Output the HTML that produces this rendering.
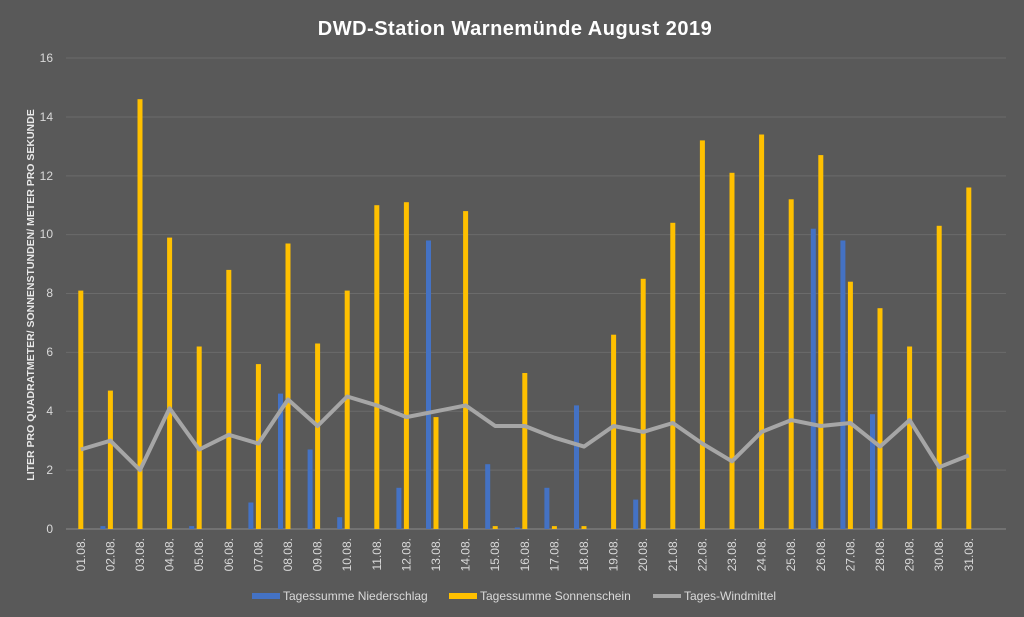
<!DOCTYPE html><html><head><style>body{margin:0;background:#595959}svg{display:block}text{font-family:"Liberation Sans",sans-serif}</style></head><body>
<svg width="1024" height="617" xmlns="http://www.w3.org/2000/svg">
<rect width="1024" height="617" fill="#595959"/>
<text x="515" y="35" fill="#fff" font-size="20" font-weight="bold" text-anchor="middle" letter-spacing="0.5">DWD-Station Warnemünde August 2019</text>
<text transform="translate(34,295) rotate(-90)" fill="#e8e8e8" font-size="10.5" font-weight="bold" text-anchor="middle">LITER PRO QUADRATMETER/ SONNENSTUNDEN/ METER PRO SEKUNDE</text>
<g stroke="#6b6b6b" stroke-width="1">
<line x1="66" x2="1006" y1="470.1" y2="470.1"/><line x1="66" x2="1006" y1="411.3" y2="411.3"/><line x1="66" x2="1006" y1="352.4" y2="352.4"/><line x1="66" x2="1006" y1="293.5" y2="293.5"/><line x1="66" x2="1006" y1="234.6" y2="234.6"/><line x1="66" x2="1006" y1="175.9" y2="175.9"/><line x1="66" x2="1006" y1="117" y2="117"/><line x1="66" x2="1006" y1="58" y2="58"/>
</g>
<line x1="66" x2="1006" y1="529" y2="529" stroke="#8c8c8c"/>
<g fill="#d9d9d9" font-size="12" text-anchor="end">
<text x="53" y="533">0</text><text x="53" y="474">2</text><text x="53" y="415">4</text><text x="53" y="356">6</text><text x="53" y="297">8</text><text x="53" y="238">10</text><text x="53" y="180">12</text><text x="53" y="121">14</text><text x="53" y="62">16</text>
</g>
<g fill="#4472c4">
<rect x="100.4" y="526.1" width="5" height="2.9"/>
<rect x="189.2" y="526.1" width="5" height="2.9"/>
<rect x="248.4" y="502.5" width="5" height="26.5"/>
<rect x="278" y="393.6" width="5" height="135.4"/>
<rect x="307.6" y="449.5" width="5" height="79.5"/>
<rect x="337.2" y="517.2" width="5" height="11.8"/>
<rect x="396.4" y="487.8" width="5" height="41.2"/>
<rect x="426" y="240.5" width="5" height="288.5"/>
<rect x="485.2" y="464.2" width="5" height="64.8"/>
<rect x="514.8" y="527.5" width="5" height="1.5"/>
<rect x="544.4" y="487.8" width="5" height="41.2"/>
<rect x="574" y="405.4" width="5" height="123.6"/>
<rect x="633.2" y="499.6" width="5" height="29.4"/>
<rect x="810.8" y="228.7" width="5" height="300.3"/>
<rect x="840.4" y="240.5" width="5" height="288.5"/>
<rect x="870" y="414.2" width="5" height="114.8"/>
</g>
<g fill="#ffc000">
<rect x="78.3" y="290.6" width="5" height="238.4"/>
<rect x="107.9" y="390.6" width="5" height="138.4"/>
<rect x="137.5" y="99.2" width="5" height="429.8"/>
<rect x="167.1" y="237.6" width="5" height="291.4"/>
<rect x="196.7" y="346.5" width="5" height="182.5"/>
<rect x="226.3" y="269.9" width="5" height="259.1"/>
<rect x="255.9" y="364.1" width="5" height="164.9"/>
<rect x="285.5" y="243.5" width="5" height="285.5"/>
<rect x="315.1" y="343.5" width="5" height="185.5"/>
<rect x="344.7" y="290.6" width="5" height="238.4"/>
<rect x="374.3" y="205.2" width="5" height="323.8"/>
<rect x="403.9" y="202.2" width="5" height="326.8"/>
<rect x="433.5" y="417.1" width="5" height="111.9"/>
<rect x="463.1" y="211.1" width="5" height="317.9"/>
<rect x="492.7" y="526.1" width="5" height="2.9"/>
<rect x="522.3" y="373" width="5" height="156"/>
<rect x="551.9" y="526.1" width="5" height="2.9"/>
<rect x="581.5" y="526.1" width="5" height="2.9"/>
<rect x="611.1" y="334.7" width="5" height="194.3"/>
<rect x="640.7" y="278.8" width="5" height="250.2"/>
<rect x="670.3" y="222.8" width="5" height="306.2"/>
<rect x="699.9" y="140.4" width="5" height="388.6"/>
<rect x="729.5" y="172.8" width="5" height="356.2"/>
<rect x="759.1" y="134.5" width="5" height="394.5"/>
<rect x="788.7" y="199.3" width="5" height="329.7"/>
<rect x="818.3" y="155.1" width="5" height="373.9"/>
<rect x="847.9" y="281.7" width="5" height="247.3"/>
<rect x="877.5" y="308.2" width="5" height="220.8"/>
<rect x="907.1" y="346.5" width="5" height="182.5"/>
<rect x="936.7" y="225.8" width="5" height="303.2"/>
<rect x="966.3" y="187.5" width="5" height="341.5"/>
</g>
<polyline fill="none" stroke="#a6a6a6" stroke-width="4" stroke-linejoin="round" points="80.8,449.5 110.4,440.7 140,470.1 169.6,408.3 199.2,449.5 228.8,434.8 258.4,443.6 288,399.5 317.6,426 347.2,396.5 376.8,405.4 406.4,417.1 436,411.3 465.6,405.4 495.2,426 524.8,426 554.4,437.7 584,446.6 613.6,426 643.2,431.9 672.8,423 702.4,443.6 732,461.3 761.6,431.9 791.2,420.1 820.8,426 850.4,423 880,446.6 909.6,420.1 939.2,467.2 968.8,455.4"/>
<g fill="#d9d9d9" font-size="12" text-anchor="end">
<text transform="translate(84.8,538) rotate(-90)">01.08.</text>
<text transform="translate(114.4,538) rotate(-90)">02.08.</text>
<text transform="translate(144,538) rotate(-90)">03.08.</text>
<text transform="translate(173.6,538) rotate(-90)">04.08.</text>
<text transform="translate(203.2,538) rotate(-90)">05.08.</text>
<text transform="translate(232.8,538) rotate(-90)">06.08.</text>
<text transform="translate(262.4,538) rotate(-90)">07.08.</text>
<text transform="translate(292,538) rotate(-90)">08.08.</text>
<text transform="translate(321.6,538) rotate(-90)">09.08.</text>
<text transform="translate(351.2,538) rotate(-90)">10.08.</text>
<text transform="translate(380.8,538) rotate(-90)">11.08.</text>
<text transform="translate(410.4,538) rotate(-90)">12.08.</text>
<text transform="translate(440,538) rotate(-90)">13.08.</text>
<text transform="translate(469.6,538) rotate(-90)">14.08.</text>
<text transform="translate(499.2,538) rotate(-90)">15.08.</text>
<text transform="translate(528.8,538) rotate(-90)">16.08.</text>
<text transform="translate(558.4,538) rotate(-90)">17.08.</text>
<text transform="translate(588,538) rotate(-90)">18.08.</text>
<text transform="translate(617.6,538) rotate(-90)">19.08.</text>
<text transform="translate(647.2,538) rotate(-90)">20.08.</text>
<text transform="translate(676.8,538) rotate(-90)">21.08.</text>
<text transform="translate(706.4,538) rotate(-90)">22.08.</text>
<text transform="translate(736,538) rotate(-90)">23.08.</text>
<text transform="translate(765.6,538) rotate(-90)">24.08.</text>
<text transform="translate(795.2,538) rotate(-90)">25.08.</text>
<text transform="translate(824.8,538) rotate(-90)">26.08.</text>
<text transform="translate(854.4,538) rotate(-90)">27.08.</text>
<text transform="translate(884,538) rotate(-90)">28.08.</text>
<text transform="translate(913.6,538) rotate(-90)">29.08.</text>
<text transform="translate(943.2,538) rotate(-90)">30.08.</text>
<text transform="translate(972.8,538) rotate(-90)">31.08.</text>
</g>
<g font-size="12" fill="#d9d9d9">
<rect x="252" y="593" width="28" height="6" fill="#4472c4"/><text x="283" y="600">Tagessumme Niederschlag</text>
<rect x="449" y="593" width="28" height="6" fill="#ffc000"/><text x="480" y="600">Tagessumme Sonnenschein</text>
<rect x="653" y="594" width="28" height="4" fill="#a6a6a6"/><text x="684" y="600">Tages-Windmittel</text>
</g>
</svg></body></html>
